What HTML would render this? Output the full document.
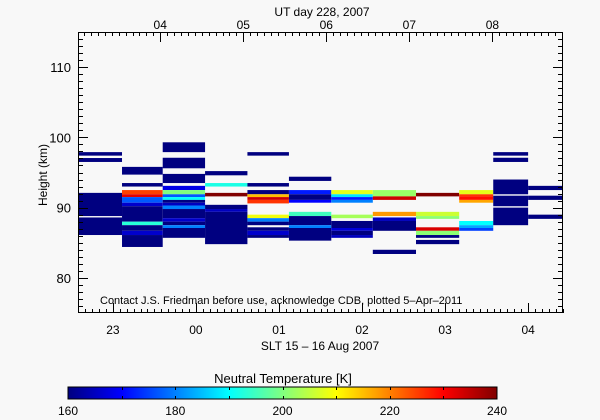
<!DOCTYPE html>
<html><head><meta charset="utf-8"><style>
html,body{margin:0;padding:0;background:#f8f8f8;}
svg{display:block;font-family:"Liberation Sans",sans-serif;}
</style></head><body>
<svg id="c" width="600" height="420" viewBox="0 0 600 420">
<rect width="600" height="420" fill="#f8f8f8"/>
<g id="cells"></g>
<g id="axes"></g>
</svg>
<script>
// column time bounds (SLT hours, >24 = after midnight)
const colStart = [22.58,23.11,23.60,24.11,24.62,25.12,25.63,26.13,26.65,27.17,27.58,28.00];
const colEnd   = [23.11,23.60,24.11,24.62,25.12,25.63,26.13,26.65,27.17,27.58,28.00,28.42];
// cells: column index, bottom height km, top height km, temperature K
const cellCol = [0,0,0,0, 1,1,1,1,1,1,1,1,1,1,1, 2,2,2,2,2,2,2,2,2,2,2,2,2,2,2, 3,3,3,3,3,3, 4,4,4,4,4,4,4,4,4,4,4,4, 5,5,5,5,5,5,5,5, 6,6,6,6,6,6,6,6,6, 7,7,7,7,7,7, 8,8,8,8,8,8,8, 9,9,9,9,9,9,9, 10,10,10,10,10, 11,11,11];
const cellLo = [97.4,96.5,88.8,86.1, 94.7,93.0,91.9,91.5,90.7,90.2,88.0,87.5,86.7,86.1,84.4, 97.9,95.6,93.5,92.5,91.9,91.5,91.1,90.7,90.3,89.8,88.5,88.0,87.5,87.1,85.7, 94.6,93.0,91.6,89.8,89.4,84.8, 97.4,93.0,91.9,91.5,91.1,90.6,88.5,88.0,87.5,86.7,86.1,85.7, 93.8,91.9,91.1,90.7,88.8,87.5,87.1,85.3, 91.9,91.5,91.1,90.7,88.5,87.1,86.7,86.1,85.7, 91.6,91.1,88.8,88.1,86.7,83.4, 91.6,88.8,88.4,86.7,86.1,85.7,84.8, 91.9,91.6,91.1,90.7,87.5,87.1,86.7, 97.4,96.5,91.9,90.2,87.5, 92.5,91.1,88.4];
const cellHi = [97.9,97.06,92.1,88.6, 95.8,93.5,92.5,91.9,91.5,90.7,90.2,88.0,87.5,86.7,86.1, 99.3,97.1,94.8,93.1,92.5,91.9,91.5,91.1,90.7,90.3,89.8,88.5,88.0,87.5,87.1, 95.2,93.5,92.1,90.4,89.8,89.4, 97.9,93.5,92.5,91.9,91.5,91.1,89.0,88.5,88.0,87.2,86.7,86.1, 94.4,92.5,91.9,91.1,89.4,88.8,87.5,87.1, 92.5,91.9,91.5,91.1,89.0,88.1,87.1,86.7,86.1, 92.5,91.6,89.4,88.6,88.1,84.0, 92.1,89.4,88.8,87.2,86.7,86.1,85.4, 92.5,91.9,91.6,91.1,88.1,87.5,87.1, 97.9,97.1,94.0,91.7,90.0, 93.1,91.7,89.0];
const cellT = [160,160,160,160, 160,160,225,232,177,166,160,193,160,166,160, 160,160,160,168,200,177,190,160,165,180,160,166,160,180,160, 160,192,240,160,165,160, 160,160,160,215,234,226,209,180,160,160,166,160, 160,172,160,170,195,160,180,160, 208,188,172,180,203,160,167,160,165, 202,234,218,165,160,160, 240,206,201,233,201,160,160, 208,226,229,217,190,183,175, 160,160,160,160,160, 160,160,160];
const yTickVals = [80,90,100,110];
const sltTicks = [23,24,25,26,27,28];
const sltLabels = ["23","00","01","02","03","04"];
const utTicks = [4,5,6,7,8];
const utLabels = ["04","05","06","07","08"];
const utOffset = 4.43;
const cbTicks = [160,180,200,220,240];

const X0=78,X1=563,Y0=32,Y1=313,TMIN=22.58,TMAX=28.42,HMIN=75,HMAX=115;
const xs=t=>X0+(t-TMIN)/(TMAX-TMIN)*(X1-X0);
const ys=h=>Y1-(h-HMIN)/(HMAX-HMIN)*(Y1-Y0);
const cl=v=>Math.max(0,Math.min(1,v));
function jet(T){const t=cl((T-160)/80);
 const r=cl(1.5-Math.abs(4*t-3)),g=cl(1.5-Math.abs(4*t-2)),b=cl(1.5-Math.abs(4*t-1));
 return `rgb(${Math.round(r*255)},${Math.round(g*255)},${Math.round(b*255)})`;}
const NS="http://www.w3.org/2000/svg";
function mk(tag,attrs,parent){const e=document.createElementNS(NS,tag);for(const k in attrs)e.setAttribute(k,attrs[k]);parent.appendChild(e);return e;}
const cells=document.getElementById('cells'),axes=document.getElementById('axes');
for(let i=0;i<cellT.length;i++){
 const c=cellCol[i];
 const r=mk('rect',{x:xs(colStart[c]),y:ys(cellHi[i]),width:xs(colEnd[c])-xs(colStart[c]),height:ys(cellLo[i])-ys(cellHi[i]),fill:jet(cellT[i])},cells);
 
 
}
const st={stroke:'#000','stroke-width':1,fill:'none'};
const frame=mk('rect',{x:X0+0.5,y:Y0+0.5,width:X1-X0-1,height:Y1-Y0-1,...st},axes);


function txt(s,x,y,anchor,size,parent,name){const t=mk('text',{x:x,y:y,'text-anchor':anchor,'font-size':size,fill:'#000'},parent);t.textContent=s;
 
 return t;}
for(let h=76;h<=114;h++){const y=Math.round(ys(h))+0.5;const L=(h%10==0)?10:5;
 mk('line',{x1:X0,x2:X0+L,y1:y,y2:y,...st},axes);mk('line',{x1:X1-L,x2:X1,y1:y,y2:y,...st},axes);}
yTickVals.forEach(v=>txt(String(v),71,ys(v)+5,'end',13,axes,'y-tick-label'));
const yt=txt('Height (km)',0,0,'middle',12,axes,'y-axis-title');yt.setAttribute('transform','translate(47,175) rotate(-90)');
for(let m=Math.ceil(TMIN*12);m<=Math.floor(TMAX*12);m++){const x=Math.round(xs(m/12))+0.5;const L=(m%12==0)?10:4;mk('line',{x1:x,x2:x,y1:Y1-L,y2:Y1,...st},axes);}
sltTicks.forEach((v,i)=>txt(sltLabels[i],xs(v),334,'middle',12,axes,'x-tick-label'));
txt('SLT 15 \u2013 16 Aug 2007',320,350,'middle',12,axes,'x-axis-title');
for(let m=Math.ceil((TMIN+utOffset-24)*12);m<=Math.floor((TMAX+utOffset-24)*12);m++){const x=Math.round(xs(m/12+24-utOffset))+0.5;const L=(m%12==0)?10:4;mk('line',{x1:x,x2:x,y1:Y0,y2:Y0+L,...st},axes);}
utTicks.forEach((v,i)=>txt(utLabels[i],xs(v+24-utOffset),29,'middle',12,axes,'top-tick-label'));
txt('UT day 228, 2007',322,16,'middle',12,axes,'top-axis-title');
txt('Contact J.S. Friedman before use, acknowledge CDB, plotted 5\u2013Apr\u20132011',100,304,'start',11,axes,'credit-note');
const CB0=68,CB1=497,CBY=387,CBH=12;
const defs=mk('defs',{},axes);const gr=mk('linearGradient',{id:'jetg',x1:0,x2:1,y1:0,y2:0},defs);
for(let i=0;i<=16;i++){mk('stop',{offset:i/16,'stop-color':jet(160+80*i/16)},gr);}
const cb=mk('rect',{x:CB0,y:CBY,width:CB1-CB0,height:CBH,fill:'url(#jetg)',stroke:'#000','stroke-width':1},axes);


for(let v=170;v<240;v+=10){const x=Math.round(CB0+(v-160)/80*(CB1-CB0))+0.5;mk('line',{x1:x,x2:x,y1:CBY,y2:CBY+3,...st},axes);mk('line',{x1:x,x2:x,y1:CBY+CBH-3,y2:CBY+CBH,...st},axes);}
cbTicks.forEach(v=>txt(String(v),CB0+(v-160)/80*(CB1-CB0),415,'middle',12,axes,'colorbar-tick-label'));
txt('Neutral Temperature [K]',283,383,'middle',13,axes,'colorbar-title');
</script>
</body></html>
